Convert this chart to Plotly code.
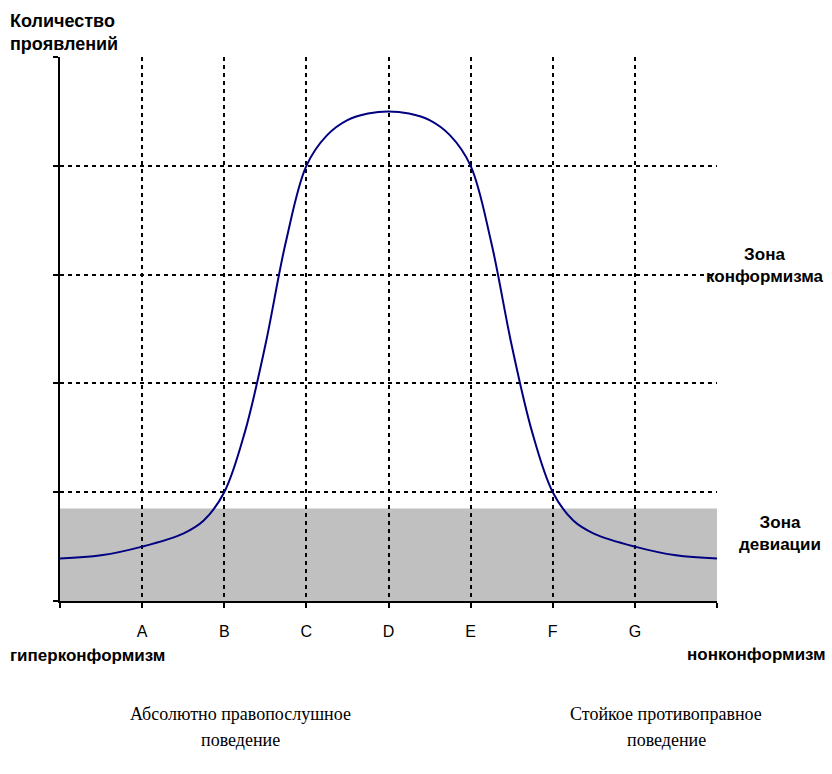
import plotly.graph_objects as go

# ---- data ----
x_positions = [0, 0.5, 1, 1.5, 1.75, 2, 2.25, 2.5, 2.75, 3, 3.25, 3.5, 3.75, 4,
               4.25, 4.5, 4.75, 5, 5.25, 5.5, 5.75, 6, 6.25, 6.5, 7, 7.5, 8]
counts = [0.39, 0.42, 0.50, 0.62, 0.74, 1.0, 1.55, 2.35, 3.3, 4.0, 4.28, 4.42, 4.48, 4.50,
          4.48, 4.42, 4.28, 4.0, 3.3, 2.35, 1.55, 1.0, 0.74, 0.62, 0.50, 0.42, 0.39]
tick_values = [0, 1, 2, 3, 4, 5, 6, 7, 8]
tick_labels = ["", "A", "B", "C", "D", "E", "F", "G", ""]
y_ticks = [0, 1, 2, 3, 4, 5]
deviation_zone_top = 0.85

W, H = 832, 774
L, R, T, B = 60, 115, 57, 173
PW, PH = W - L - R, H - T - B


def px(xp):
    return (xp - L) / PW


def py(yp):
    return (H - B - yp) / PH


SANS = "Liberation Sans, Arial, sans-serif"
SERIF = "Liberation Serif, Times New Roman, serif"

fig = go.Figure()
fig.add_trace(go.Scatter(
    x=x_positions, y=counts, mode="lines",
    line=dict(color="#000080", width=2, shape="spline", smoothing=1.0),
    hoverinfo="skip", showlegend=False,
))

fig.add_shape(type="rect", xref="x", yref="y", x0=0, x1=8, y0=0, y1=deviation_zone_top,
              fillcolor="#c0c0c0", line=dict(width=0), layer="below")

grid = dict(showgrid=True, gridcolor="black", gridwidth=2, griddash="4px,4px")

fig.update_xaxes(range=[0, 8], tickvals=tick_values, ticktext=tick_labels,
                 showline=True, linecolor="black", linewidth=2,
                 ticks="outside", ticklen=5, tickwidth=2, tickcolor="black",
                 tickfont=dict(family=SANS, size=16, color="black"),
                 ticklabelstandoff=10, zeroline=False, fixedrange=True, **grid)
fig.update_yaxes(range=[0, 5], tickvals=y_ticks, showticklabels=False,
                 showline=True, linecolor="black", linewidth=2,
                 ticks="outside", ticklen=5, tickwidth=2, tickcolor="black",
                 zeroline=False, fixedrange=True, **grid)

ann = []
def add(text, x, y, xanchor="center", font=SANS, size=16, bold=True, align="center"):
    t = f"<b>{text}</b>" if bold else text
    ann.append(dict(text=t, xref="paper", yref="paper", x=px(x), y=py(y),
                    xanchor=xanchor, yanchor="middle", showarrow=False, align=align,
                    font=dict(family=font, size=size, color="black")))

add("Количество<br>проявлений", 8, 33, xanchor="left", align="left", size=18)
add("Зона<br>конформизма", 765, 265, size=17)
add("Зона<br>девиации", 780, 533, size=17)
add("гиперконформизм", 8, 655, xanchor="left", size=17)
add("нонконформизм", 828, 654, xanchor="right", size=17)
add("Абсолютно правопослушное", 240, 714, font=SERIF, size=18, bold=False)
add("поведение", 240, 740, font=SERIF, size=18, bold=False)
add("Стойкое противоправное", 666, 714, font=SERIF, size=18, bold=False)
add("поведение", 666, 740, font=SERIF, size=18, bold=False)

fig.update_layout(
    width=W, height=H, margin=dict(l=L, r=R, t=T, b=B),
    paper_bgcolor="white", plot_bgcolor="white",
    annotations=ann, showlegend=False,
)

fig.write_html("out.html", config={"displayModeBar": False, "staticPlot": True},
               post_script="document.body.style.margin='0';document.body.style.padding='0';")
